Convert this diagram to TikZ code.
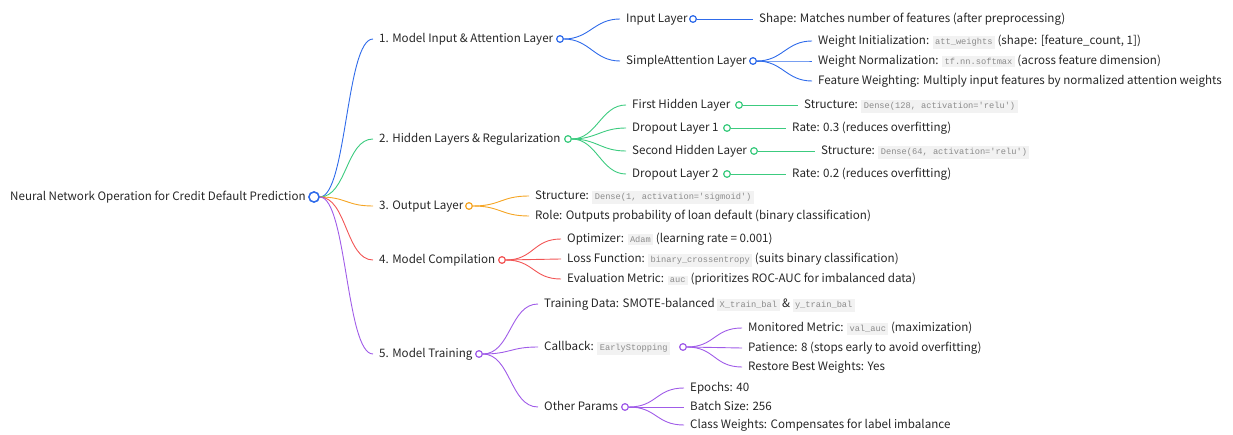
\documentclass[tikz,border=0pt]{standalone}
\usepackage{fontspec}
\setmainfont{Noto Sans CJK SC}
\newfontfamily\codefont{Liberation Mono}
\definecolor{textc}{HTML}{262626}
\definecolor{codebg}{HTML}{F2F2F2}
\definecolor{codefg}{HTML}{8C8C8C}
\definecolor{cblue}{HTML}{2F6BEA}
\definecolor{cgreen}{HTML}{3CCB7F}
\definecolor{corange}{HTML}{F5A524}
\definecolor{cred}{HTML}{F25555}
\definecolor{cpurple}{HTML}{A05CE8}
\newcommand{\mycode}[1]{{\setlength{\fboxsep}{2.4pt}\colorbox{codebg}{\codefont\fontsize{8.7}{10}\selectfont\color{codefg}#1}}}
\newcommand{\mylink}[3]{\draw (#1.east) .. controls +(#3,0) and +(-#3,0) .. (#2.west);}
\tikzset{
  txt/.style={anchor=west, inner xsep=6pt, inner ysep=0pt, text height=10pt, text depth=2.5pt, text=textc, font=\fontsize{11.6}{14}\selectfont},
  dot/.style={circle, draw, fill=white, line width=1.1pt, inner sep=0pt, minimum size=6.5pt},
  rootdot/.style={circle, draw=cblue, fill=white, line width=1.4pt, inner sep=0pt, minimum size=10pt},
  br/.style={line width=0.9pt},
}
\begin{document}
\begin{tikzpicture}[x=1pt,y=-1pt]
\useasboundingbox (0,0) rectangle (1233,435);
% root
\node[txt] (root) at (4,197) {Neural Network Operation for Credit Default Prediction};
% level 1
\node[txt] (a) at (373,39) {1. Model Input \& Attention Layer};
\node[txt] (b) at (373,139) {2. Hidden Layers \& Regularization};
\node[txt] (c) at (373,206) {3. Output Layer};
\node[txt] (d) at (373,260) {4. Model Compilation};
\node[txt] (e) at (373,354) {5. Model Training};
% group 1
\node[txt] (a1) at (620,19) {Input Layer};
\node[txt] (a1x) at (753,19) {Shape: Matches number of features (after preprocessing)};
\node[txt] (a2) at (620,61) {SimpleAttention Layer};
\node[txt] (a2a) at (812,41) {Weight Initialization: \mycode{att\_weights} (shape: [feature\_count, 1])};
\node[txt] (a2b) at (812,61) {Weight Normalization: \mycode{tf.nn.softmax} (across feature dimension)};
\node[txt] (a2c) at (812,81) {Feature Weighting: Multiply input features by normalized attention weights};
% group 2
\node[txt] (b1) at (626,105) {First Hidden Layer};
\node[txt] (b1x) at (798,105) {Structure: \mycode{Dense(128, activation='relu')}};
\node[txt] (b2) at (626,128) {Dropout Layer 1};
\node[txt] (b2x) at (786,128) {Rate: 0.3 (reduces overfitting)};
\node[txt] (b3) at (626,151) {Second Hidden Layer};
\node[txt] (b3x) at (815,151) {Structure: \mycode{Dense(64, activation='relu')}};
\node[txt] (b4) at (626,174) {Dropout Layer 2};
\node[txt] (b4x) at (786,174) {Rate: 0.2 (reduces overfitting)};
% group 3
\node[txt] (c1) at (529,196) {Structure: \mycode{Dense(1, activation='sigmoid')}};
\node[txt] (c2) at (529,216) {Role: Outputs probability of loan default (binary classification)};
% group 4
\node[txt] (d1) at (561,239) {Optimizer: \mycode{Adam} (learning rate = 0.001)};
\node[txt] (d2) at (561,259) {Loss Function: \mycode{binary\_crossentropy} (suits binary classification)};
\node[txt] (d3) at (561,279) {Evaluation Metric: \mycode{auc} (prioritizes ROC-AUC for imbalanced data)};
% group 5
\node[txt] (e1) at (538,304) {Training Data: SMOTE-balanced \mycode{X\_train\_bal} \& \mycode{y\_train\_bal}};
\node[txt] (e2) at (538,347) {Callback: \mycode{EarlyStopping}};
\node[txt] (e2a) at (742,328) {Monitored Metric: \mycode{val\_auc} (maximization)};
\node[txt] (e2b) at (742,348) {Patience: 8 (stops early to avoid overfitting)};
\node[txt] (e2c) at (742,367) {Restore Best Weights: Yes};
\node[txt] (e3) at (538,407) {Other Params};
\node[txt] (e3a) at (684,388) {Epochs: 40};
\node[txt] (e3b) at (684,407) {Batch Size: 256};
\node[txt] (e3c) at (684,425) {Class Weights: Compensates for label imbalance};
% dots
\node[rootdot] (r0) at (314,197) {};
\node[dot, draw=cblue] (da) at (560,39) {};
\node[dot, draw=cgreen] (db) at (568,139) {};
\node[dot, draw=corange] (dc) at (469,206) {};
\node[dot, draw=cred] (dd) at (502,260) {};
\node[dot, draw=cpurple] (de) at (479,354) {};
\node[dot, draw=cblue] (da1) at (693,19) {};
\node[dot, draw=cblue] (da2) at (753,61) {};
\node[dot, draw=cgreen] (db1) at (739,105) {};
\node[dot, draw=cgreen] (db2) at (727,128) {};
\node[dot, draw=cgreen] (db3) at (754,151) {};
\node[dot, draw=cgreen] (db4) at (727,174) {};
\node[dot, draw=cpurple] (de2) at (683,347) {};
\node[dot, draw=cpurple] (de3) at (625,407) {};
% connectors
\begin{scope}[br, cblue]
\mylink{r0}{a}{27}
\mylink{da}{a1}{26}
\mylink{da}{a2}{26}
\draw (da1.east) -- (a1x.west);
\mylink{da2}{a2a}{26}
\mylink{da2}{a2b}{26}
\mylink{da2}{a2c}{26}
\end{scope}
\begin{scope}[br, cgreen]
\mylink{r0}{b}{27}
\mylink{db}{b1}{25}
\mylink{db}{b2}{25}
\mylink{db}{b3}{25}
\mylink{db}{b4}{25}
\draw (db1.east) -- (b1x.west);
\draw (db2.east) -- (b2x.west);
\draw (db3.east) -- (b3x.west);
\draw (db4.east) -- (b4x.west);
\end{scope}
\begin{scope}[br, corange]
\mylink{r0}{c}{27}
\mylink{dc}{c1}{28}
\mylink{dc}{c2}{28}
\end{scope}
\begin{scope}[br, cred]
\mylink{r0}{d}{27}
\mylink{dd}{d1}{28}
\mylink{dd}{d2}{28}
\mylink{dd}{d3}{28}
\end{scope}
\begin{scope}[br, cpurple]
\mylink{r0}{e}{27}
\mylink{de}{e1}{28}
\mylink{de}{e2}{28}
\mylink{de}{e3}{28}
\mylink{de2}{e2a}{28}
\mylink{de2}{e2b}{28}
\mylink{de2}{e2c}{28}
\mylink{de3}{e3a}{28}
\mylink{de3}{e3b}{28}
\mylink{de3}{e3c}{28}
\end{scope}
% redraw dots on top
\node[rootdot] at (r0) {};
\foreach \n/\c in {da/cblue,db/cgreen,dc/corange,dd/cred,de/cpurple,da1/cblue,da2/cblue,db1/cgreen,db2/cgreen,db3/cgreen,db4/cgreen,de2/cpurple,de3/cpurple}
  \node[dot, draw=\c] at (\n) {};
\end{tikzpicture}
\end{document}
